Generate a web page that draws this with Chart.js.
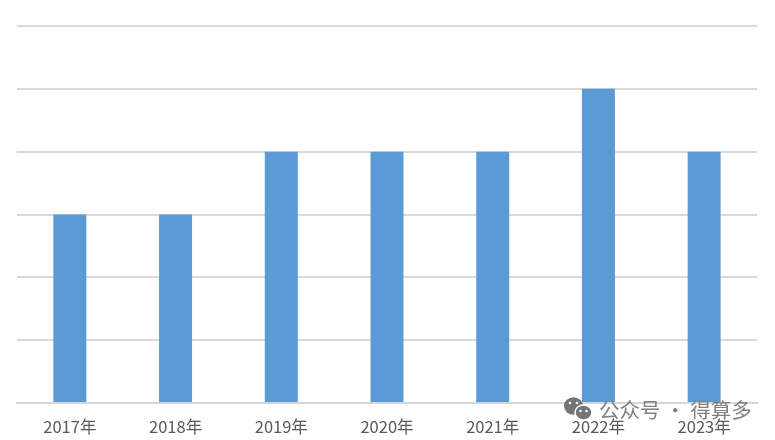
<!DOCTYPE html>
<html>
<head>
<meta charset="utf-8">
<script src="https://cdn.jsdelivr.net/npm/chart.js@4"></script>
<style>
  html, body { margin: 0; padding: 0; background: #fff; }
  canvas { display: block; }
</style>
</head>
<body>
<canvas id="barChart" width="775" height="440"></canvas>
<script>
const years = ['2017年', '2018年', '2019年', '2020年', '2021年', '2022年', '2023年'];
const counts = [3, 3, 4, 4, 4, 5, 4];
const yTicks = [0, 1, 2, 3, 4, 5, 6];
const watermarkText = '公众号 · 得算多';

// watermark sits on top of the finished chart
const watermark = {
  id: 'watermark',
  afterDraw(chart) {
    const c = chart.ctx;
    c.save();
    c.fillStyle = '#757575';
    c.beginPath();
    c.ellipse(573.5, 406, 9.5, 8.8, 0, 0, Math.PI * 2);
    c.fill();
    c.strokeStyle = '#fff';
    c.lineWidth = 1.5;
    c.beginPath();
    c.ellipse(583.5, 412.5, 8.5, 7.5, 0, 0, Math.PI * 2);
    c.fill();
    c.stroke();
    c.fillStyle = '#fff';
    [[570, 403], [577, 403], [580.5, 411], [586.5, 411]].forEach(p => {
      c.beginPath();
      c.arc(p[0], p[1], 1.3, 0, Math.PI * 2);
      c.fill();
    });
    c.font = '20.5px "Noto Sans CJK SC"';
    c.fillStyle = '#808080';
    c.textBaseline = 'middle';
    c.textAlign = 'left';
    c.fillText(watermarkText, 599, 410);
    c.restore();
  }
};

new Chart(document.getElementById('barChart').getContext('2d'), {
  type: 'bar',
  data: {
    labels: years,
    datasets: [{
      data: counts,
      backgroundColor: '#5b9bd5',
      categoryPercentage: 1,
      barPercentage: 0.312
    }]
  },
  options: {
    responsive: false,
    animation: false,
    layout: { padding: { left: 17, right: 18, top: 26, bottom: 0 } },
    plugins: {
      legend: { display: false },
      title: { display: false },
      tooltip: { enabled: false }
    },
    scales: {
      x: {
        grid: { display: false },
        border: { color: '#d6d6d6', width: 2 },
        ticks: {
          color: '#595959',
          font: { family: '"Noto Sans CJK SC"', size: 16.5 },
          padding: 6,
          maxRotation: 0
        },
        afterFit(scale) { scale.height = 37; }
      },
      y: {
        min: 0,
        max: 6,
        afterBuildTicks(scale) { scale.ticks = yTicks.map(v => ({ value: v })); },
        grid: { color: '#d9d9d9', lineWidth: 2, drawTicks: false },
        border: { display: false },
        ticks: { display: false },
        afterFit(scale) { scale.width = 0; }
      }
    }
  },
  plugins: [watermark]
});
</script>
</body>
</html>
